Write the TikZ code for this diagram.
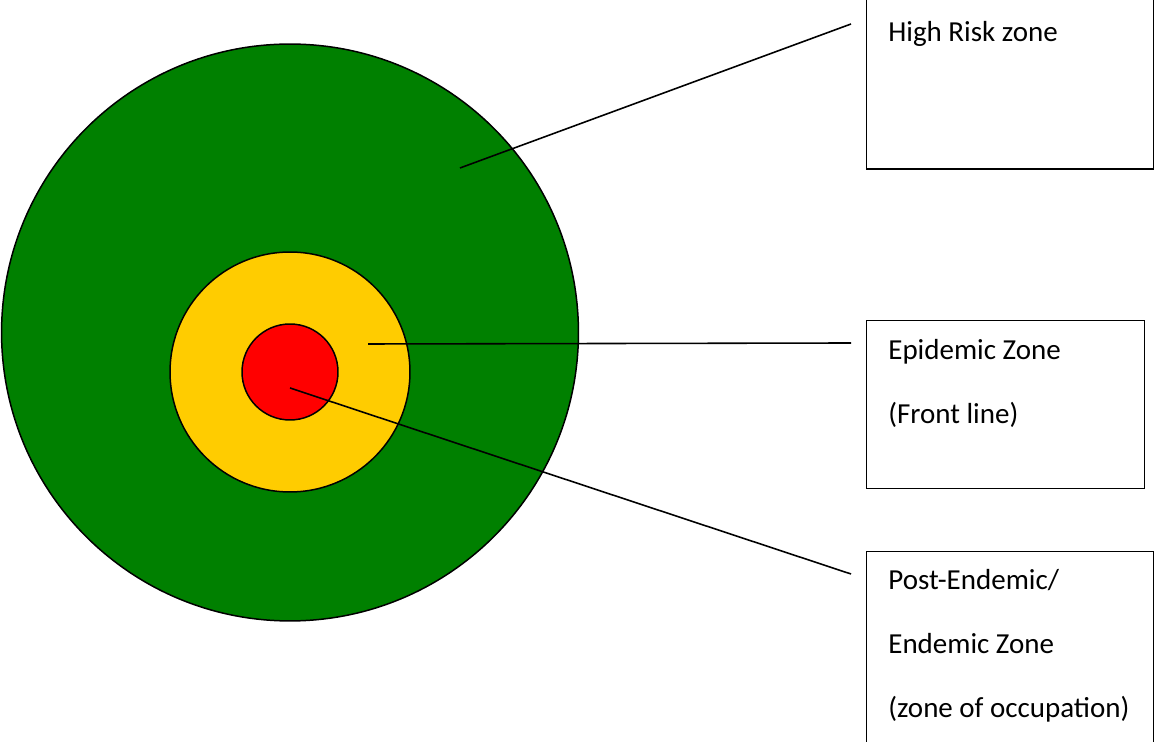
\documentclass[tikz,border=0pt]{standalone}
\usepackage{fontspec}
\setmainfont{Carlito}
\usetikzlibrary{positioning}
\definecolor{riskgreen}{HTML}{008000}
\definecolor{frontyellow}{HTML}{FFCC00}
\definecolor{corered}{HTML}{FF0000}
\tikzset{
  zone/.style={
    circle,
    draw=black,
    line width=0.85pt,
    inner sep=0pt
  },
  labelbox/.style={
    rectangle,
    draw=black,
    line width=0.85pt,
    fill=white,
    anchor=north west,
    inner sep=0pt
  },
  boxtext/.style={anchor=base west, font=\fontsize{16.5}{20}\selectfont, inner sep=0pt},
  pointer/.style={line width=0.9pt, draw=black}
}

\begin{document}
\begin{tikzpicture}[x=0.02cm,y=-0.02cm]
\path[use as bounding box] (0,0) rectangle (1154,742);
\fill[white] (0,0) rectangle (1154,742);

% target rings
\node[zone, fill=riskgreen, minimum size=11.54cm] (highrisk) at (290,332.5) {};
\node[zone, fill=frontyellow, minimum size=4.8cm] (epidemic) at (290,372) {};
\node[zone, fill=corered, minimum size=1.92cm] (endemic) at (290,372) {};

% label boxes
\node[labelbox, minimum width=5.74cm, minimum height=3.4cm] (riskbox) at (866,-1.5) {};
\node[labelbox, minimum width=5.56cm, minimum height=3.36cm] (frontbox) at (866,320) {};
\node[labelbox, minimum width=5.74cm, minimum height=4.2cm] (occbox) at (866,551) {};

\node[boxtext] (risktxt) at (888,42) {High Risk zone};
\node[boxtext] (fronttxta) at (888,360) {Epidemic Zone};
\node[boxtext] (fronttxtb) at (888,424) {(Front line)};
\node[boxtext] (occtxta) at (888,590) {Post-Endemic/};
\node[boxtext] (occtxtb) at (888,654) {Endemic Zone};
\node[boxtext] (occtxtc) at (888,718) {(zone of occupation)};

% pointers
\coordinate (riskpt) at (460,168);
\coordinate (frontpt) at (368,344);
\coordinate (occpt) at (290,388);
\coordinate (riskend) at (851,24);
\coordinate (frontend) at (851,343);
\coordinate (occend) at (851,574);

\draw[pointer] (riskpt) -- (riskend);
\draw[pointer] (frontpt) -- (frontend);
\draw[pointer] (occpt) -- (occend);

\end{tikzpicture}
\end{document}
